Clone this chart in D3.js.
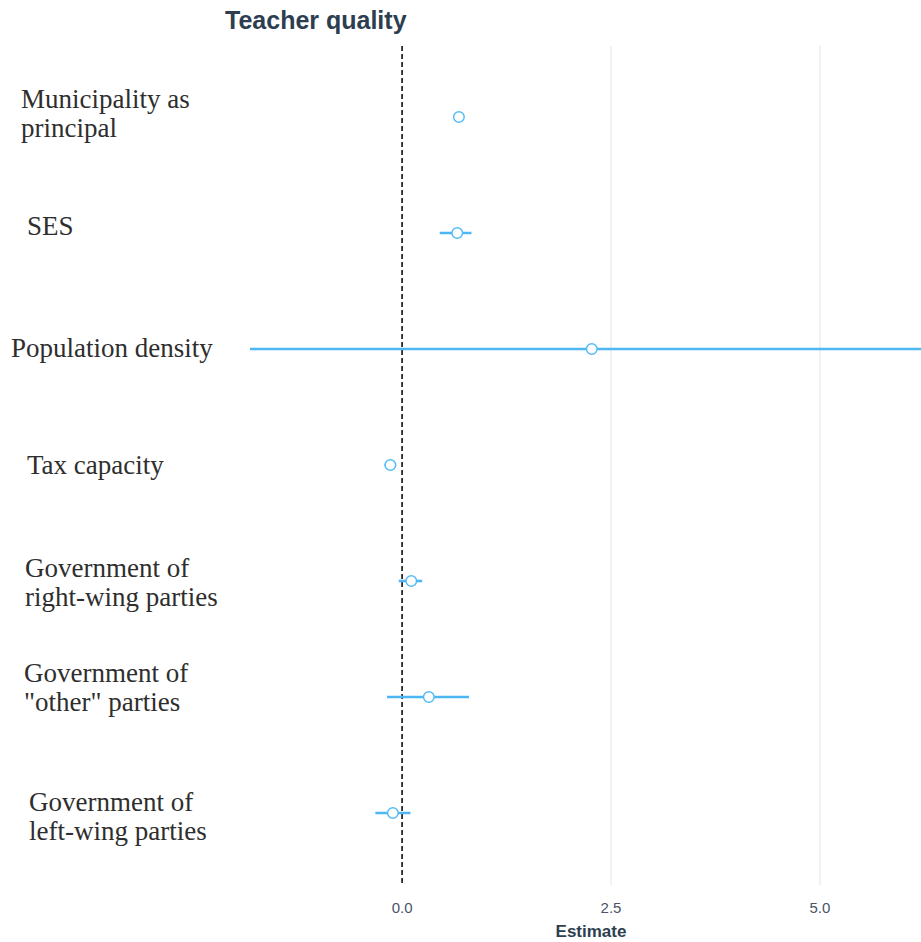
<!DOCTYPE html>
<html>
<head>
<meta charset="utf-8">
<script src="https://cdn.jsdelivr.net/npm/d3@7"></script>
<style>
  html, body { margin: 0; padding: 0; background: #ffffff; }
  svg { display: block; }
</style>
</head>
<body>
<svg id="chart" width="921" height="942"></svg>
<script>
// Coefficient plot: point estimates with confidence intervals
const terms = [
  "Municipality as\nprincipal",
  "SES",
  "Population density",
  "Tax capacity",
  "Government of\nright-wing parties",
  "Government of\n\"other\" parties",
  "Government of\nleft-wing parties"
];
const estimates = [0.68, 0.66, 2.27, -0.14, 0.11, 0.32, -0.11];
const ciLower   = [0.64, 0.45, -1.82, -0.21, -0.04, -0.18, -0.32];
const ciUpper   = [0.72, 0.83, 6.80, -0.08, 0.24, 0.80, 0.10];
const xTicks = [0, 2.5, 5];
const titleText = "Teacher quality";
const xTitle = "Estimate";

// per-label placement tweaks (left edge, vertical shift)
const labelLeft = [21, 27, 11, 27, 25, 24, 29];
const labelShift = [-4, -7, -1, 0, 1, -10, 3];

const W = 921, H = 942;
const panel = { left: 250, right: 921, top: 46, bottom: 885 };

const svg = d3.select("#chart");

const x = d3.scaleLinear().domain([-1.82, 6.21]).range([panel.left, panel.right]);
const y = d3.scalePoint().domain(terms).range([47.4, 882.6]).padding(0.6);

const data = terms.map((t, i) => ({ term: t, est: estimates[i], lo: ciLower[i], hi: ciUpper[i], i }));

// clip region for the plotting panel
svg.append("clipPath").attr("id", "panelClip")
  .append("rect")
  .attr("x", panel.left).attr("y", panel.top)
  .attr("width", panel.right - panel.left).attr("height", panel.bottom - panel.top);

// vertical grid lines
svg.append("g")
  .selectAll("line")
  .data(xTicks.filter(d => d !== 0))
  .join("line")
  .attr("x1", d => x(d)).attr("x2", d => x(d))
  .attr("y1", panel.top).attr("y2", panel.bottom)
  .attr("stroke", "#e6e6e6").attr("stroke-width", 1.1);

// zero reference line
svg.append("line")
  .attr("x1", x(0)).attr("x2", x(0))
  .attr("y1", panel.top).attr("y2", panel.bottom)
  .attr("stroke", "#000").attr("stroke-width", 1.5)
  .attr("stroke-dasharray", "5,3");

// confidence intervals
const marks = svg.append("g").attr("clip-path", "url(#panelClip)");
marks.selectAll("line.ci")
  .data(data)
  .join("line")
  .attr("class", "ci")
  .attr("x1", d => x(d.lo)).attr("x2", d => x(d.hi))
  .attr("y1", d => y(d.term)).attr("y2", d => y(d.term))
  .attr("stroke", "#4db6f4").attr("stroke-width", 2.6);

// point estimates
marks.selectAll("circle.pt")
  .data(data)
  .join("circle")
  .attr("class", "pt")
  .attr("cx", d => x(d.est)).attr("cy", d => y(d.term))
  .attr("r", 5.3)
  .attr("fill", "#fff")
  .attr("stroke", "#55bcf6").attr("stroke-width", 1.5);

// term labels
const lineH = 29;
const labels = svg.append("g")
  .attr("font-family", "'Liberation Serif', 'Times New Roman', serif")
  .attr("font-size", 27)
  .attr("fill", "#2e2e2e");
data.forEach(d => {
  const lines = d.term.split("\n");
  const t = labels.append("text")
    .attr("x", labelLeft[d.i])
    .attr("y", y(d.term) + labelShift[d.i] - (lines.length - 1) * lineH / 2)
    .attr("dominant-baseline", "central");
  lines.forEach((ln, k) => {
    t.append("tspan")
      .attr("x", labelLeft[d.i])
      .attr("dy", k === 0 ? 0 : lineH)
      .text(ln);
  });
});

// x-axis tick labels
svg.append("g")
  .attr("font-family", "'Liberation Sans', Arial, sans-serif")
  .attr("font-size", 15)
  .attr("fill", "#4a5568")
  .selectAll("text")
  .data(xTicks)
  .join("text")
  .attr("x", d => x(d)).attr("y", 913)
  .attr("text-anchor", "middle")
  .text(d => d3.format(".1f")(d));

// axis title
svg.append("text")
  .attr("x", 591).attr("y", 937)
  .attr("text-anchor", "middle")
  .attr("font-family", "'Liberation Sans', Arial, sans-serif")
  .attr("font-weight", "bold")
  .attr("font-size", 17)
  .attr("fill", "#2c3e50")
  .text(xTitle);

// chart title
svg.append("text")
  .attr("x", 225).attr("y", 29)
  .attr("font-family", "'Liberation Sans', Arial, sans-serif")
  .attr("font-weight", "bold")
  .attr("font-size", 25)
  .attr("fill", "#2c3e50")
  .text(titleText);
</script>
</body>
</html>
